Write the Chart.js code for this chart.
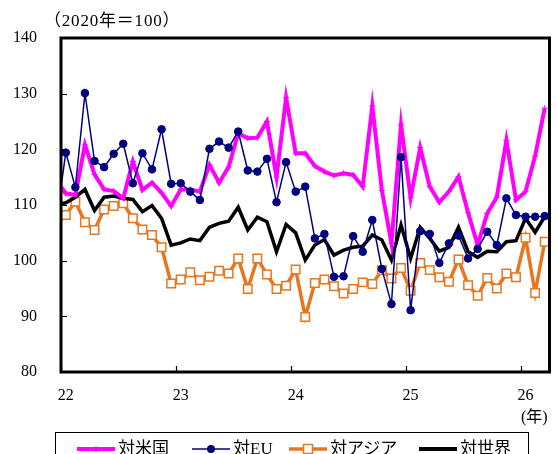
<!DOCTYPE html>
<html>
<head>
<meta charset="utf-8">
<script src="https://cdn.jsdelivr.net/npm/chart.js@4.4.1/dist/chart.umd.min.js"></script>
<style>
  body { margin: 0; background: #fff; }
  #wrap { position: relative; width: 557px; height: 454px; overflow: hidden; font-family: 'Liberation Serif', 'Noto Sans CJK JP', serif; }
  #c { position: absolute; left: 0; top: 0; }
  .note { position: absolute; font-size: 16px; color: #000; white-space: nowrap; line-height: 20px; }
  #unit { left: 44px; top: 11px; font-size: 17px; letter-spacing: 0.8px; }
  #yr { left: 521px; top: 407px; }
  #legend { position: absolute; left: 55px; top: 432px; width: 472px; height: 34px; border: 1.5px solid #000; }
  .item { position: absolute; top: 5px; height: 22px; line-height: 22px; display: flex; align-items: center; font-size: 17px; white-space: nowrap; }
  .item svg { margin-right: 3px; flex: none; }
</style>
</head>
<body>
<div id="wrap">
  <canvas id="c" width="557" height="454"></canvas>
  <div class="note" id="unit">（2020年＝100）</div>
  <div class="note" id="yr">(年)</div>
  <div id="legend"></div>
</div>
<script>
// 月（先頭の2021-12は左端で切れる）
const months = [
  '2021-12',
  '2022-01','2022-02','2022-03','2022-04','2022-05','2022-06','2022-07','2022-08','2022-09','2022-10','2022-11','2022-12',
  '2023-01','2023-02','2023-03','2023-04','2023-05','2023-06','2023-07','2023-08','2023-09','2023-10','2023-11','2023-12',
  '2024-01','2024-02','2024-03','2024-04','2024-05','2024-06','2024-07','2024-08','2024-09','2024-10','2024-11','2024-12',
  '2025-01','2025-02','2025-03','2025-04','2025-05','2025-06','2025-07','2025-08','2025-09','2025-10','2025-11','2025-12',
  '2026-01','2026-02','2026-03'
];

// 対米国
const usa = [
  114.4,
  112.1, 111.8, 120.8, 115.5, 112.8, 112.5, 111.2, 117.8, 112.7, 114.0, 112.2, 109.8,
  112.8, 112.8, 112.4, 117.2, 114.0, 116.8, 122.9, 122.0, 122.1, 125.0, 115.0, 129.3,
  119.3, 119.3, 117.0, 116.0, 115.3, 115.7, 115.4, 113.3, 127.8, 112.6, 103.1, 124.4,
  111.3, 120.3, 113.3, 110.5, 112.4, 115.1, 108.6, 102.8, 108.5, 111.4, 121.6, 110.9,
  112.4, 118.8, 127.4
];
// 対EU
const eu = [
  107.0,
  119.4, 113.2, 130.1, 117.9, 116.8, 119.2, 121.0, 113.9, 119.3, 116.4, 123.6, 113.8,
  113.9, 112.4, 110.9, 120.1, 121.4, 120.3, 123.2, 116.2, 116.0, 118.3, 110.5, 117.7,
  112.4, 113.3, 104.0, 104.8, 97.1, 97.2, 104.4, 101.6, 107.3, 98.5, 92.2, 118.6,
  91.1, 105.3, 104.8, 99.6, 103.1, 104.5, 100.4, 102.1, 105.2, 102.8, 111.2, 108.2,
  107.9, 107.9, 108.0
];
// 対アジア
const asia = [
  106.5,
  108.2, 110.6, 106.9, 105.5, 109.2, 109.8, 110.3, 107.6, 105.6, 104.6, 102.4, 95.9,
  96.6, 97.9, 96.5, 97.1, 98.2, 97.7, 100.4, 94.9, 100.4, 97.5, 94.9, 95.5,
  98.4, 89.9, 96.0, 96.6, 95.4, 94.1, 94.9, 96.1, 95.8, 98.3, 96.8, 98.7,
  94.6, 99.6, 98.3, 97.0, 96.2, 100.2, 95.6, 93.7, 96.9, 95.0, 97.7, 97.0,
  104.1, 94.2, 103.4
];
// 対世界
const world = [
  110.0,
  110.4, 111.4, 112.8, 109.0, 111.4, 111.6, 111.2, 111.0, 108.8, 109.9, 107.6, 102.8,
  103.2, 103.9, 103.6, 106.0, 106.7, 107.1, 109.6, 105.5, 107.8, 107.0, 101.6, 106.5,
  105.0, 100.1, 102.8, 103.8, 101.0, 101.9, 102.4, 102.6, 104.6, 103.7, 100.1, 106.4,
  100.4, 106.0, 104.0, 101.7, 102.4, 106.0, 101.6, 100.6, 101.7, 101.6, 103.4, 103.6,
  107.6, 105.1, 107.9
];

const yearLabels = ['22', '23', '24', '25', '26'];
const yearTickMonths = ['2022-01', '2023-01', '2024-01', '2025-01', '2026-01'];
const yTicks = [80, 90, 100, 110, 120, 130, 140];

const FONT = "'Liberation Serif', 'Noto Sans CJK JP', serif";
const MAGENTA = '#ff00ff';
const NAVY = '#000080';
const ORANGE = '#e8761e';

// 2022-01 を 0 とした月番号
const base = months.indexOf('2022-01');
const toXY = arr => arr.map((v, i) => ({ x: i - base, y: v }));
const yearTickIdx = yearTickMonths.map(m => months.indexOf(m) - base);

// 枠と内向きの目盛り
const framePlugin = {
  id: 'frame',
  afterDatasetsDraw(chart) {
    const { ctx, chartArea: a, scales } = chart;
    ctx.save();
    ctx.strokeStyle = '#000';
    ctx.lineWidth = 1.2;
    ctx.beginPath();
    yTicks.slice(1, -1).forEach(v => {
      const y = Math.round(scales.y.getPixelForValue(v)) + 0.5;
      ctx.moveTo(a.left, y); ctx.lineTo(a.left + 6, y);
    });
    yearTickIdx.forEach(i => {
      const x = Math.round(scales.x.getPixelForValue(i - 0.5)) + 0.5;
      ctx.moveTo(x, a.bottom); ctx.lineTo(x, a.bottom - 6);
    });
    ctx.stroke();
    ctx.lineWidth = 3;
    ctx.strokeRect(a.left, a.top, a.right - a.left, a.bottom - a.top);
    ctx.restore();
  }
};

new Chart(document.getElementById('c'), {
  type: 'line',
  data: {
    datasets: [
      {
        label: '対EU', data: toXY(eu),
        borderColor: NAVY, borderWidth: 1.5,
        pointStyle: 'circle', pointRadius: 3.8,
        pointBackgroundColor: NAVY, pointBorderColor: NAVY, pointBorderWidth: 1,
        clip: 0
      },
      {
        label: '対米国', data: toXY(usa),
        borderColor: MAGENTA, borderWidth: 4,
        pointStyle: 'cross', pointRadius: 3,
        pointBorderColor: MAGENTA, pointBorderWidth: 1,
        clip: 0
      },
      {
        label: '対世界', data: toXY(world),
        borderColor: '#000', borderWidth: 3.5, pointRadius: 0,
        clip: 0
      },
      {
        label: '対アジア', data: toXY(asia),
        borderColor: ORANGE, borderWidth: 3.5,
        pointStyle: 'rect', pointRadius: 6,
        pointBackgroundColor: '#fff', pointBorderColor: ORANGE, pointBorderWidth: 1.5,
        clip: 0
      }
    ]
  },
  options: {
    responsive: false,
    animation: false,
    layout: { padding: { top: 38, right: 3, bottom: 52, left: 0 } },
    plugins: { legend: { display: false }, tooltip: { enabled: false } },
    elements: { line: { tension: 0 } },
    scales: {
      x: {
        type: 'linear', min: -0.5, max: 50.5,
        grid: { display: false, drawTicks: false }, border: { display: false },
        afterBuildTicks: s => { s.ticks = yearTickIdx.map(v => ({ value: v })); },
        afterFit: s => { s.height = 30; },
        ticks: {
          autoSkip: false, maxRotation: 0, padding: 14, color: '#000',
          font: { family: FONT, size: 16 },
          callback: (v, i) => yearLabels[i]
        }
      },
      y: {
        min: 80, max: 140,
        grid: { display: false, drawTicks: false }, border: { display: false },
        afterFit: s => { s.width = 61; },
        ticks: { stepSize: 10, padding: 24, color: '#000', font: { family: FONT, size: 16 } }
      }
    }
  },
  plugins: [framePlugin]
});

// 凡例
const legendItems = [
  { label: '対米国', left: 21, color: MAGENTA, width: 4, marker: 'cross' },
  { label: '対EU', left: 136, color: NAVY, width: 1.5, marker: 'dot' },
  { label: '対アジア', left: 233, color: ORANGE, width: 3.5, marker: 'square' },
  { label: '対世界', left: 363, color: '#000', width: 4, marker: null }
];
const legend = document.getElementById('legend');
legendItems.forEach(it => {
  let mk = '';
  if (it.marker === 'cross') mk = `<path d="M19 8V14M16 11H22" stroke="${it.color}" stroke-width="1"/>`;
  if (it.marker === 'dot') mk = `<circle cx="19" cy="11" r="4" fill="${it.color}"/>`;
  if (it.marker === 'square') mk = `<rect x="14.5" y="6.5" width="9" height="9" fill="#fff" stroke="${it.color}" stroke-width="1.5"/>`;
  const div = document.createElement('div');
  div.className = 'item';
  div.style.left = it.left + 'px';
  div.innerHTML = `<svg width="38" height="22"><line x1="0" y1="11" x2="38" y2="11" stroke="${it.color}" stroke-width="${it.width}"/>${mk}</svg><span>${it.label}</span>`;
  legend.appendChild(div);
});
</script>
</body>
</html>
